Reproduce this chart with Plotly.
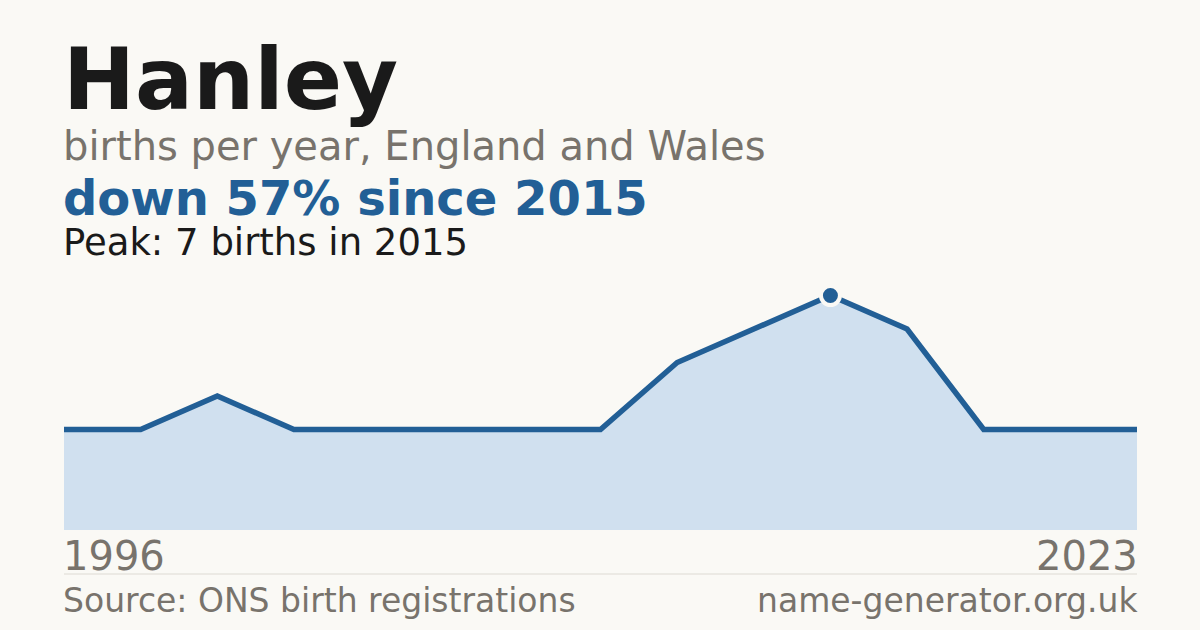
import plotly.graph_objects as go

# births per year, Hanley (years with data only, evenly spaced)
years = [1996, 1998, 2000, 2002, 2004, 2006, 2008, 2010, 2012, 2013, 2015, 2017, 2019, 2021, 2023]
births = [3, 3, 4, 3, 3, 3, 3, 3, 5, 6, 7, 6, 3, 3, 3]
peak_year = 2015
peak_births = 7

name = "Hanley"
subtitle = "births per year, England and Wales"
headline = "down 57% since 2015"
peak_text = "Peak: 7 births in 2015"
source_text = "Source: ONS birth registrations"
site_text = "name-generator.org.uk"

BG = "#faf9f5"
BLUE = "#225f96"
FILL = "#d0e0ef"
GREY = "#78736c"
DARK = "#1a1a1a"
FONT = "DejaVu Sans"

W, H = 1200, 630
TOP, BOTTOM = 262, 530  # plot area in pixels
LEFT, RIGHT = 64, 1137


def py(y_px):
    # pixel row -> paper y
    return (BOTTOM - y_px) / (BOTTOM - TOP)


def px(x_px):
    return (x_px - LEFT) / (RIGHT - LEFT)


idx = list(range(len(years)))
peak_i = years.index(peak_year)

fig = go.Figure()
fig.add_trace(go.Scatter(
    x=idx, y=births, mode="lines",
    line=dict(color=BLUE, width=5.5),
    fill="tozeroy", fillcolor=FILL,
    hoverinfo="skip",
))
fig.add_trace(go.Scatter(
    x=[peak_i], y=[peak_births], mode="markers",
    marker=dict(size=19, color=BLUE, line=dict(color=BG, width=4)),
    cliponaxis=False, hoverinfo="skip",
))

# annotations carry ~3px padding, so nudge them outwards
texts = [
    (name, 79, 86, DARK, True, 61, "left"),
    (subtitle, 146, 40, GREY, False, 61, "left"),
    (headline, 198, 48, BLUE, True, 61, "left"),
    (peak_text, 242, 37, DARK, False, 61, "left"),
    (str(years[0]), 556, 40, GREY, False, 61, "left"),
    (str(years[-1]), 556, 40, GREY, False, 1140, "right"),
    (source_text, 600, 33, GREY, False, 61, "left"),
    (site_text, 600, 33, GREY, False, 1140, "right"),
]
for t, y, size, col, bold, x, anchor in texts:
    fig.add_annotation(
        text="<b>%s</b>" % t if bold else t,
        xref="paper", yref="paper",
        x=px(x), y=py(y),
        xanchor=anchor, yanchor="middle",
        showarrow=False,
        font=dict(family=FONT, size=size, color=col),
    )

fig.add_shape(type="line", xref="paper", yref="paper",
              x0=0, x1=1, y0=py(574), y1=py(574),
              line=dict(color="#dddad3", width=1))

fig.update_layout(
    width=W, height=H,
    paper_bgcolor=BG, plot_bgcolor=BG,
    margin=dict(l=LEFT, r=W - RIGHT, t=TOP, b=H - BOTTOM),
    showlegend=False,
    xaxis=dict(range=[0, len(years) - 1], visible=False, fixedrange=True),
    yaxis=dict(range=[0, 8], visible=False, fixedrange=True),
)

# drop the page's default body margin so the figure sits at 0,0
fig.write_html("out.html", config={"displayModeBar": False},
               post_script="document.body.style.margin='0';document.body.style.background='%s';" % BG)
